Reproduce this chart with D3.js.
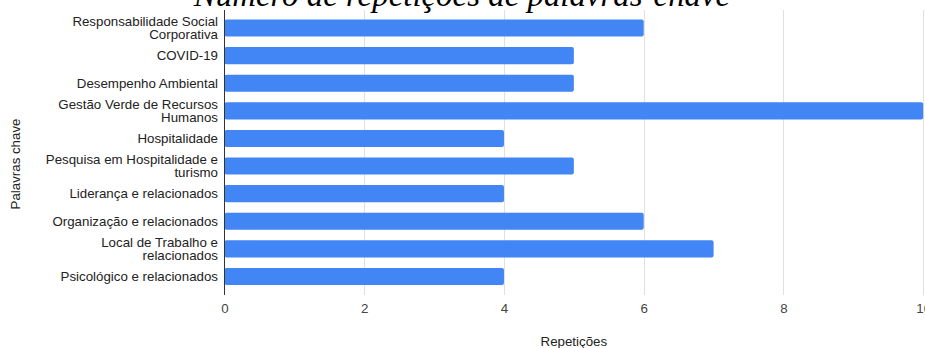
<!DOCTYPE html>
<html>
<head>
<meta charset="utf-8">
<script src="https://cdn.jsdelivr.net/npm/d3@7"></script>
<style>
  html, body { margin: 0; padding: 0; background: #fff; overflow: hidden; }
  svg { display: block; }
</style>
</head>
<body>
<svg id="chart" width="925" height="348"></svg>
<script>
const titleText = "Número de repetições de palavras-chave";
const xTitle = "Repetições";
const yTitle = "Palavras chave";
const categories = [
  "Responsabilidade Social\nCorporativa",
  "COVID-19",
  "Desempenho Ambiental",
  "Gestão Verde de Recursos\nHumanos",
  "Hospitalidade",
  "Pesquisa em Hospitalidade e\nturismo",
  "Liderança e relacionados",
  "Organização e relacionados",
  "Local de Trabalho e\nrelacionados",
  "Psicológico e relacionados"
];
const values = [6, 5, 5, 10, 4, 5, 4, 6, 7, 4];
const xTicks = [0, 2, 4, 6, 8, 10];

(function () {
const svg = d3.select("#chart");
const pLeft = 224.5, pRight = 923.2, pTop = 14.2, pBottom = 290.3;
const font = "'Liberation Sans', Arial, sans-serif";

const x = d3.scaleLinear().domain([0, 10]).range([pLeft, pRight]);
const y = d3.scaleBand().domain(categories).range([pTop, pBottom])
  .paddingInner(0.38).paddingOuter(0.19);

// gridlines
svg.append("g").selectAll("line")
  .data(xTicks.filter(d => d !== 0))
  .join("line")
  .attr("x1", d => Math.round(x(d)) + 0.5).attr("x2", d => Math.round(x(d)) + 0.5)
  .attr("y1", 10).attr("y2", 295)
  .attr("stroke", "#e0e0e0").attr("stroke-width", 1);

// bars
svg.append("g").selectAll("rect")
  .data(categories)
  .join("rect")
  .attr("x", x(0))
  .attr("y", d => y(d))
  .attr("width", (d, i) => x(values[i]) - x(0))
  .attr("height", y.bandwidth())
  .attr("rx", 2).attr("ry", 2)
  .attr("fill", "#4285f4");

// axis line
svg.append("line")
  .attr("x1", 224.5).attr("x2", 224.5)
  .attr("y1", 10).attr("y2", 295)
  .attr("stroke", "#333").attr("stroke-width", 1);

// x tick labels
const xAxis = d3.axisBottom(x).tickValues(xTicks).tickSize(0).tickPadding(0);
const gx = svg.append("g").attr("transform", "translate(0,304)").call(xAxis);
gx.select(".domain").remove();
gx.selectAll("text")
  .attr("dy", "0.71em")
  .style("font-family", font)
  .style("font-size", "13.3px")
  .attr("fill", "#444");

// y labels
const yl = svg.append("g").selectAll("text")
  .data(categories)
  .join("text")
  .attr("text-anchor", "end")
  .style("font-family", font)
  .style("font-size", "13.3px")
  .attr("fill", "#222");
yl.each(function (d) {
  const lines = d.split("\n");
  const cy = y(d) + y.bandwidth() / 2;
  const lh = 13;
  const start = cy - (lines.length - 1) * lh / 2;
  d3.select(this).selectAll("tspan").data(lines).join("tspan")
    .attr("x", 218)
    .attr("y", (l, i) => start + i * lh)
    .attr("dy", "0.35em")
    .text(l => l);
});

// axis titles
svg.append("text")
  .attr("x", (pLeft + pRight) / 2).attr("y", 346)
  .attr("text-anchor", "middle")
  .style("font-family", font)
  .style("font-size", "13.3px")
  .attr("fill", "#222")
  .text(xTitle);

svg.append("text")
  .attr("transform", "translate(20,164) rotate(-90)")
  .attr("text-anchor", "middle")
  .style("font-family", font)
  .style("font-size", "13.3px")
  .attr("fill", "#222")
  .text(yTitle);

// title
const t = svg.append("text")
  .attr("x", 462).attr("y", 6)
  .attr("text-anchor", "middle")
  .style("font-family", "'Liberation Serif', 'Times New Roman', serif")
  .style("font-style", "italic")
  .style("font-size", "30px")
  .attr("fill", "#000")
  .text(titleText);
const w = t.node().getComputedTextLength();
t.style("font-size", (30 * 536 / w).toFixed(1) + "px");
})();
</script>
</body>
</html>
